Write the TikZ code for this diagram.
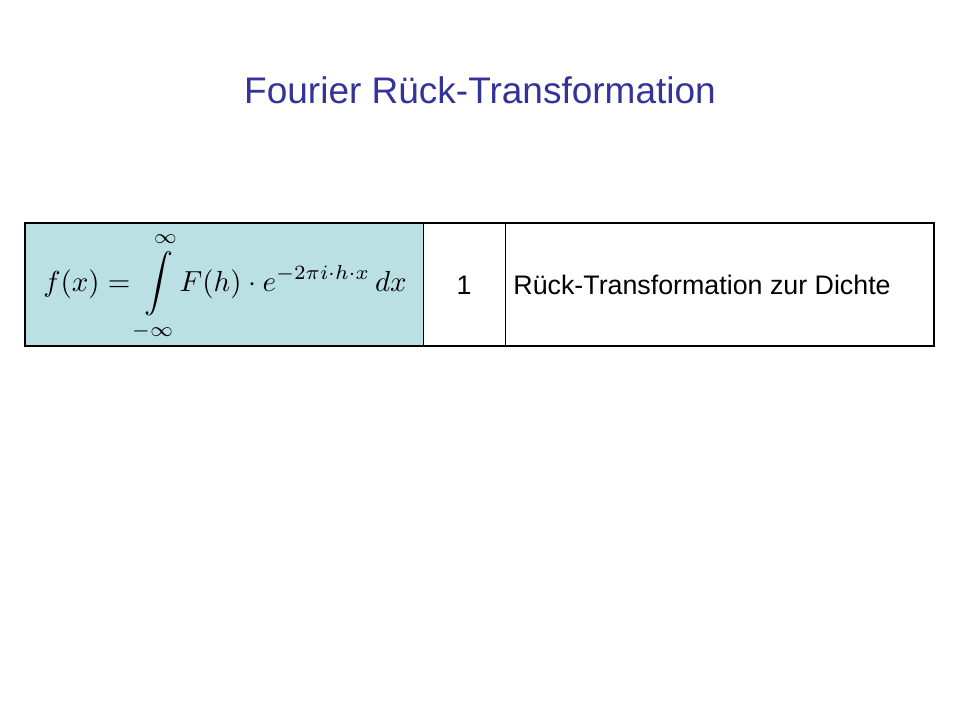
\documentclass[tikz,border=0pt]{standalone}
\usepackage{amsmath}
\usepackage{fontspec}
\setmainfont{Liberation Sans}
\usepackage{xcolor}
\definecolor{titleblue}{RGB}{51,51,153}
\definecolor{cellblue}{RGB}{186,224,227}
\begin{document}
\begin{tikzpicture}
      [ x=0.5pt, y=-0.5pt
      , cell/.style={draw=black, line width=0.5pt}
      , celltext/.style={font=\fontsize{13.4}{15}\selectfont, anchor=west, inner sep=0pt}
      ]
    \useasboundingbox (0,0) rectangle (960,720);
    \node (T) at (480,90) {\fontsize{18.5}{22}\selectfont\color{titleblue}Fourier Rück-Transformation};

    \fill[cellblue] (25,223) rectangle (423,346);
    \draw[cell] (423,223) -- (423,346);
    \draw[cell] (505,223) -- (505,346);
    \draw[line width=1.2pt] (25,223) rectangle (934,346);

    \node (F) at (225,285) {\scalebox{1.45}{$\displaystyle f(x)=\int\limits_{\mathstrut-\infty}^{\infty\mathstrut}\!F(h)\cdot e^{-2\pi i\cdot h\cdot x}\,dx$}};
    \node[celltext, anchor=center] (N) at (464,285) {1};
    \node[celltext] (D) at (513,285) {Rück-Transformation zur Dichte};
\end{tikzpicture}
\end{document}
